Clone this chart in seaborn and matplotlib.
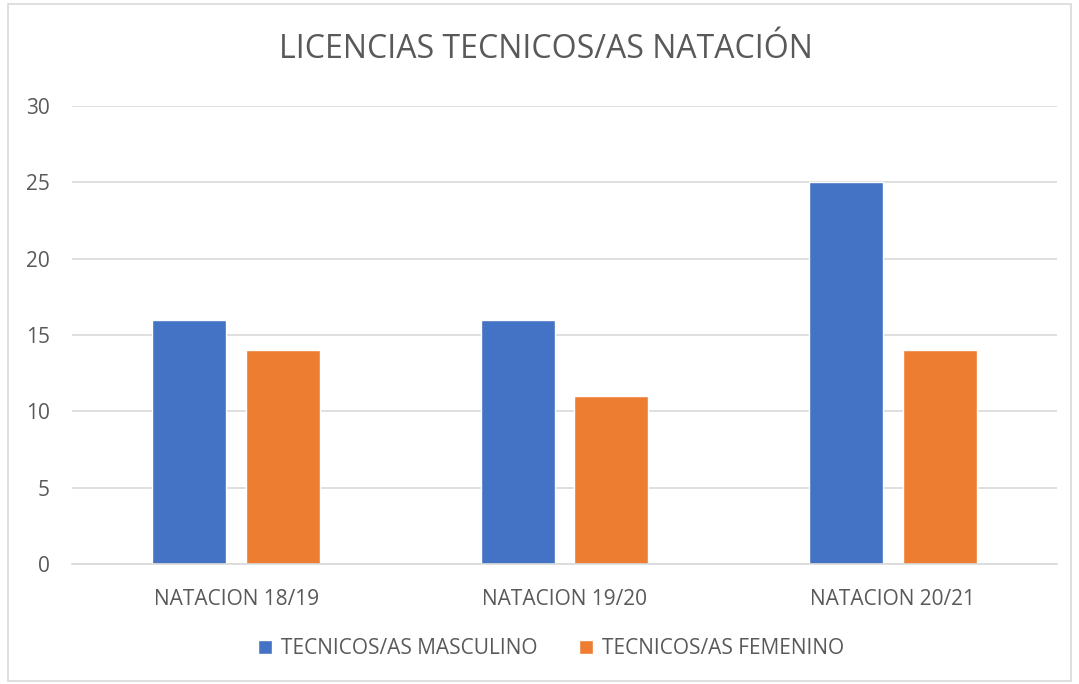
import matplotlib
matplotlib.use("Agg")
import matplotlib.pyplot as plt
import pandas as pd
import seaborn as sns
from matplotlib.patches import Rectangle

temporadas = ["NATACION 18/19", "NATACION 19/20", "NATACION 20/21"]
masculino = [16, 16, 25]
femenino = [14, 11, 14]
series = ["TECNICOS/AS MASCULINO", "TECNICOS/AS FEMENINO"]
colores = ["#4472C4", "#ED7D31"]

df = pd.DataFrame({
    "temporada": temporadas * 2,
    "valor": masculino + femenino,
    "serie": [series[0]] * 3 + [series[1]] * 3,
})

sns.set_theme(style="whitegrid")
plt.rcParams["font.family"] = ["Open Sans", "DejaVu Sans"]
txt = "#595959"

fig = plt.figure(figsize=(10.79, 6.84), dpi=100)
ax = fig.add_axes([0.0667, 0.1754, 0.913, 0.6696])

sns.barplot(data=df, x="temporada", y="valor", hue="serie", palette=colores,
            saturation=1, width=0.57, gap=0.21, ax=ax, legend=True)

ax.set_ylim(0, 30)
ax.set_yticks(range(0, 31, 5))
ax.set_xlim(-0.5, 2.5)
ax.set_xlabel("")
ax.set_ylabel("")
ax.grid(axis="y", color="#D9D9D9", linewidth=1.2)
ax.grid(axis="x", visible=False)
for s in ["top", "right", "left"]:
    ax.spines[s].set_visible(False)
ax.spines["bottom"].set_color("#D9D9D9")
ax.spines["bottom"].set_linewidth(1.2)
ax.tick_params(axis="both", colors=txt, labelsize=15, length=0)
ax.tick_params(axis="y", pad=16)
ax.tick_params(axis="x", pad=18)

fig.suptitle("LICENCIAS TECNICOS/AS NATACIÓN", x=0.506, y=0.927, va="center",
             fontsize=23, color=txt)

ax.legend(loc="center", bbox_to_anchor=(0.486, -0.185), ncol=2, frameon=False,
          fontsize=15, labelcolor=txt, handlelength=0.7, handleheight=0.7,
          handletextpad=0.4, columnspacing=2.0)

fig.patches.append(Rectangle((0.007, 0.004), 0.986, 0.99, transform=fig.transFigure,
                             fill=False, edgecolor="#D9D9D9", linewidth=1.2))

fig.savefig("out.png", dpi=100, facecolor="white")
